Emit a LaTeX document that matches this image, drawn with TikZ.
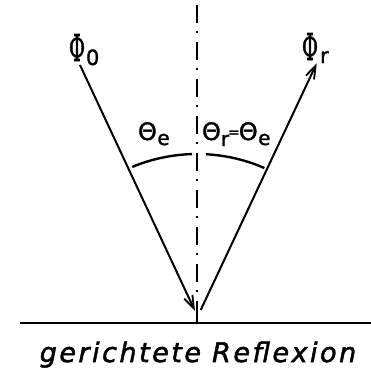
\documentclass[tikz,border=0pt]{standalone}
\usepackage{fontspec}
\usetikzlibrary{arrows.meta}
\newfontfamily\dv[FakeBold=1.5]{DejaVu Sans}
\newfontfamily\dvs[FakeBold=2]{DejaVu Serif}
\newfontfamily\dvlab[LetterSpace=9.3,FakeBold=1.8]{DejaVu Sans Oblique}
\newcommand{\bigPhi}{\resizebox{16pt}{27pt}{\dvs Φ}}
\newcommand{\thetaglyph}{{\dv\fontsize{24}{24}\selectfont Θ}}
\newcommand{\subtxt}[2]{\raisebox{#1}{\dv\fontsize{20}{20}\selectfont #2}}
\begin{document}
\begin{tikzpicture}[x=1pt,y=1pt,
  ray/.style={line width=2pt, -{Straight Barb[length=13pt,width=9pt,line width=1.8pt]}},
  axisline/.style={line width=2pt, dash pattern=on 18pt off 8pt on 2pt off 9pt},
  surface/.style={line width=2.4pt},
  anglearc/.style={line width=2.4pt},
  lab/.style={inner sep=0pt, outer sep=0pt}]
\useasboundingbox (0,0) rectangle (371,-370);
% coordinates
\coordinate (foot) at (197,-323);
\coordinate (axtop) at (197,-5);
\coordinate (axlow) at (197,-305);
\coordinate (sleft) at (20,-323);
\coordinate (sright) at (371,-323);
\coordinate (inA) at (80,-65);
\coordinate (inB) at (195,-311);
\coordinate (reA) at (200.7,-310);
\coordinate (reB) at (316.7,-63.3);
% surface and normal
\draw[surface] (sleft) -- (sright);
\draw[axisline] (axtop) -- (axlow);
\draw[line width=2pt] (axlow) -- (foot);
% rays
\draw[ray] (inA) -- (inB);
\draw[ray] (reA) -- (reB);
% angle arcs
\draw[anglearc] (foot) ++(112.5:169pt) arc[start angle=112.5, end angle=91.7, radius=169pt];
\draw[anglearc] (foot) ++(87:169pt) arc[start angle=87, end angle=66.5, radius=169pt];
% labels
\node[lab, anchor=base west] (phi0) at (69,-61) {\bigPhi\hspace{1pt}\raisebox{-4pt}{\dv\fontsize{21}{21}\selectfont 0}};
\node[lab, anchor=base west] (phir) at (302,-60) {\bigPhi\hspace{2pt}\raisebox{-3pt}{\dv\fontsize{21}{21}\selectfont r}};
\node[lab, anchor=base west] (the) at (138,-140) {\thetaglyph\hspace{0.5pt}\subtxt{-5pt}{e}};
\node[lab, anchor=base west] (ther) at (202,-140) {\thetaglyph\subtxt{-6pt}{r}\hspace{-1pt}\raisebox{3pt}{\dv\fontsize{14}{14}\selectfont =}\hspace{-1pt}\thetaglyph\hspace{0.5pt}\subtxt{-5pt}{e}};
\node[lab, anchor=base] (caption) at (198,-362) {\dvlab\fontsize{27}{27}\selectfont gerichtete Reflexion};
\end{tikzpicture}
\end{document}
